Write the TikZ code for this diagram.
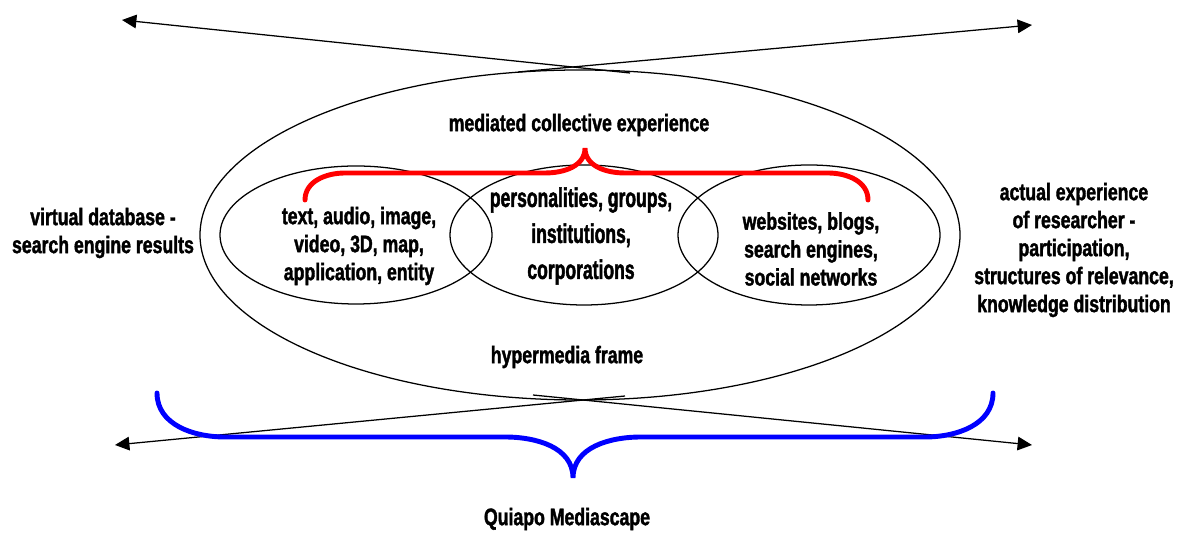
\documentclass[tikz,border=0pt]{standalone}
\usepackage{fontspec}
\setmainfont[FakeStretch=0.74, BoldFont={Liberation Sans Bold}, BoldFeatures={FakeBold=1.6}]{Liberation Sans}
\newfontfamily\midfont[FakeStretch=0.65, BoldFont={Liberation Sans Bold}, BoldFeatures={FakeBold=1.6}]{Liberation Sans}
\usepackage{xcolor}
\usepackage{tikz}
\usetikzlibrary{arrows.meta,shapes.geometric}

\begin{document}
\begin{tikzpicture}[
        txt/.style={align=center, font=\bfseries\fontsize{17}{19.9}\selectfont},
        oval/.style={draw, ellipse, line width=0.9pt, inner sep=0pt},
        arr/.style={line width=0.9pt, -{Triangle[length=3.6mm,width=3.4mm]}},
        brc/.style={line width=3.5pt, line cap=round}
    ]
            \useasboundingbox (0,0) rectangle (29.6,13.375);

            % Outer frame
            \node[oval, minimum width=19cm, minimum height=8.25cm] (frame) at (14.5,7.5) {};

            % Inner ovals
            \node[oval, minimum width=6.8cm, minimum height=3.45cm] (media) at (8.9,7.5) {};
            \node[oval, minimum width=6.7cm, minimum height=3.5cm] (actors) at (14.6,7.5) {};
            \node[oval, minimum width=6.55cm, minimum height=3.5cm] (sites) at (20.225,7.5) {};

            % Texts inside the frame
            \node[txt] (mce) at (14.475,10.25) {mediated collective experience};
            \node[txt] (hmf) at (14.175,4.45) {hypermedia frame};
            \node[txt] (mediatxt) at (8.975,7.225) {text, audio, image,\\ video, 3D, map,\\ application, entity};
            \node[txt, font=\midfont\bfseries\fontsize{19.2}{25.6}\selectfont] (actorstxt) at (14.525,7.475) {personalities, groups,\\ institutions,\\ corporations};
            \node[txt] (sitestxt) at (20.275,7.15) {websites, blogs,\\ search engines,\\ social networks};

            % Texts outside the frame
            \node[txt] (vdb) at (2.575,7.55) {virtual database -\\ search engine results};
            \node[txt] (actual) at (26.85,7.125) {actual experience\\ of researcher -\\ participation,\\ structures of relevance,\\ knowledge distribution};
            \node[txt] (quiapo) at (14.175,0.4) {Quiapo Mediascape};

            % Arrow ends
            \coordinate (topA) at (15.75,11.55);
            \coordinate (topB) at (12.95,11.575);
            \coordinate (botC) at (15.625,3.475);
            \coordinate (botD) at (13.325,3.5);
            \coordinate (tipTL) at (3.05,12.875);
            \coordinate (tipTR) at (25.8,12.75);
            \coordinate (tipBL) at (2.875,2.25);
            \coordinate (tipBR) at (25.8,2.25);

            % Arrows
            \draw[arr] (topA) -- (tipTL);
            \draw[arr] (topB) -- (tipTR);
            \draw[arr] (botC) -- (tipBL);
            \draw[arr] (botD) -- (tipBR);

            % Red brace
            \draw[brc, red] (7.625,8.375) to[out=90,in=180] (8.625,9.05) -- (13.625,9.05)
                to[out=0,in=-90] (14.625,9.675) to[out=-90,in=180] (15.625,9.05)
                -- (20.7,9.05) to[out=0,in=90] (21.7,8.375);

            % Blue brace
            \draw[brc, blue] (3.925,3.55) to[out=-90,in=180] (5.625,2.45) -- (12.625,2.45)
                to[out=0,in=90] (14.325,1.425) to[out=90,in=180] (16.025,2.45)
                -- (23.125,2.45) to[out=0,in=-90] (24.825,3.55);
        \end{tikzpicture}
\end{document}
